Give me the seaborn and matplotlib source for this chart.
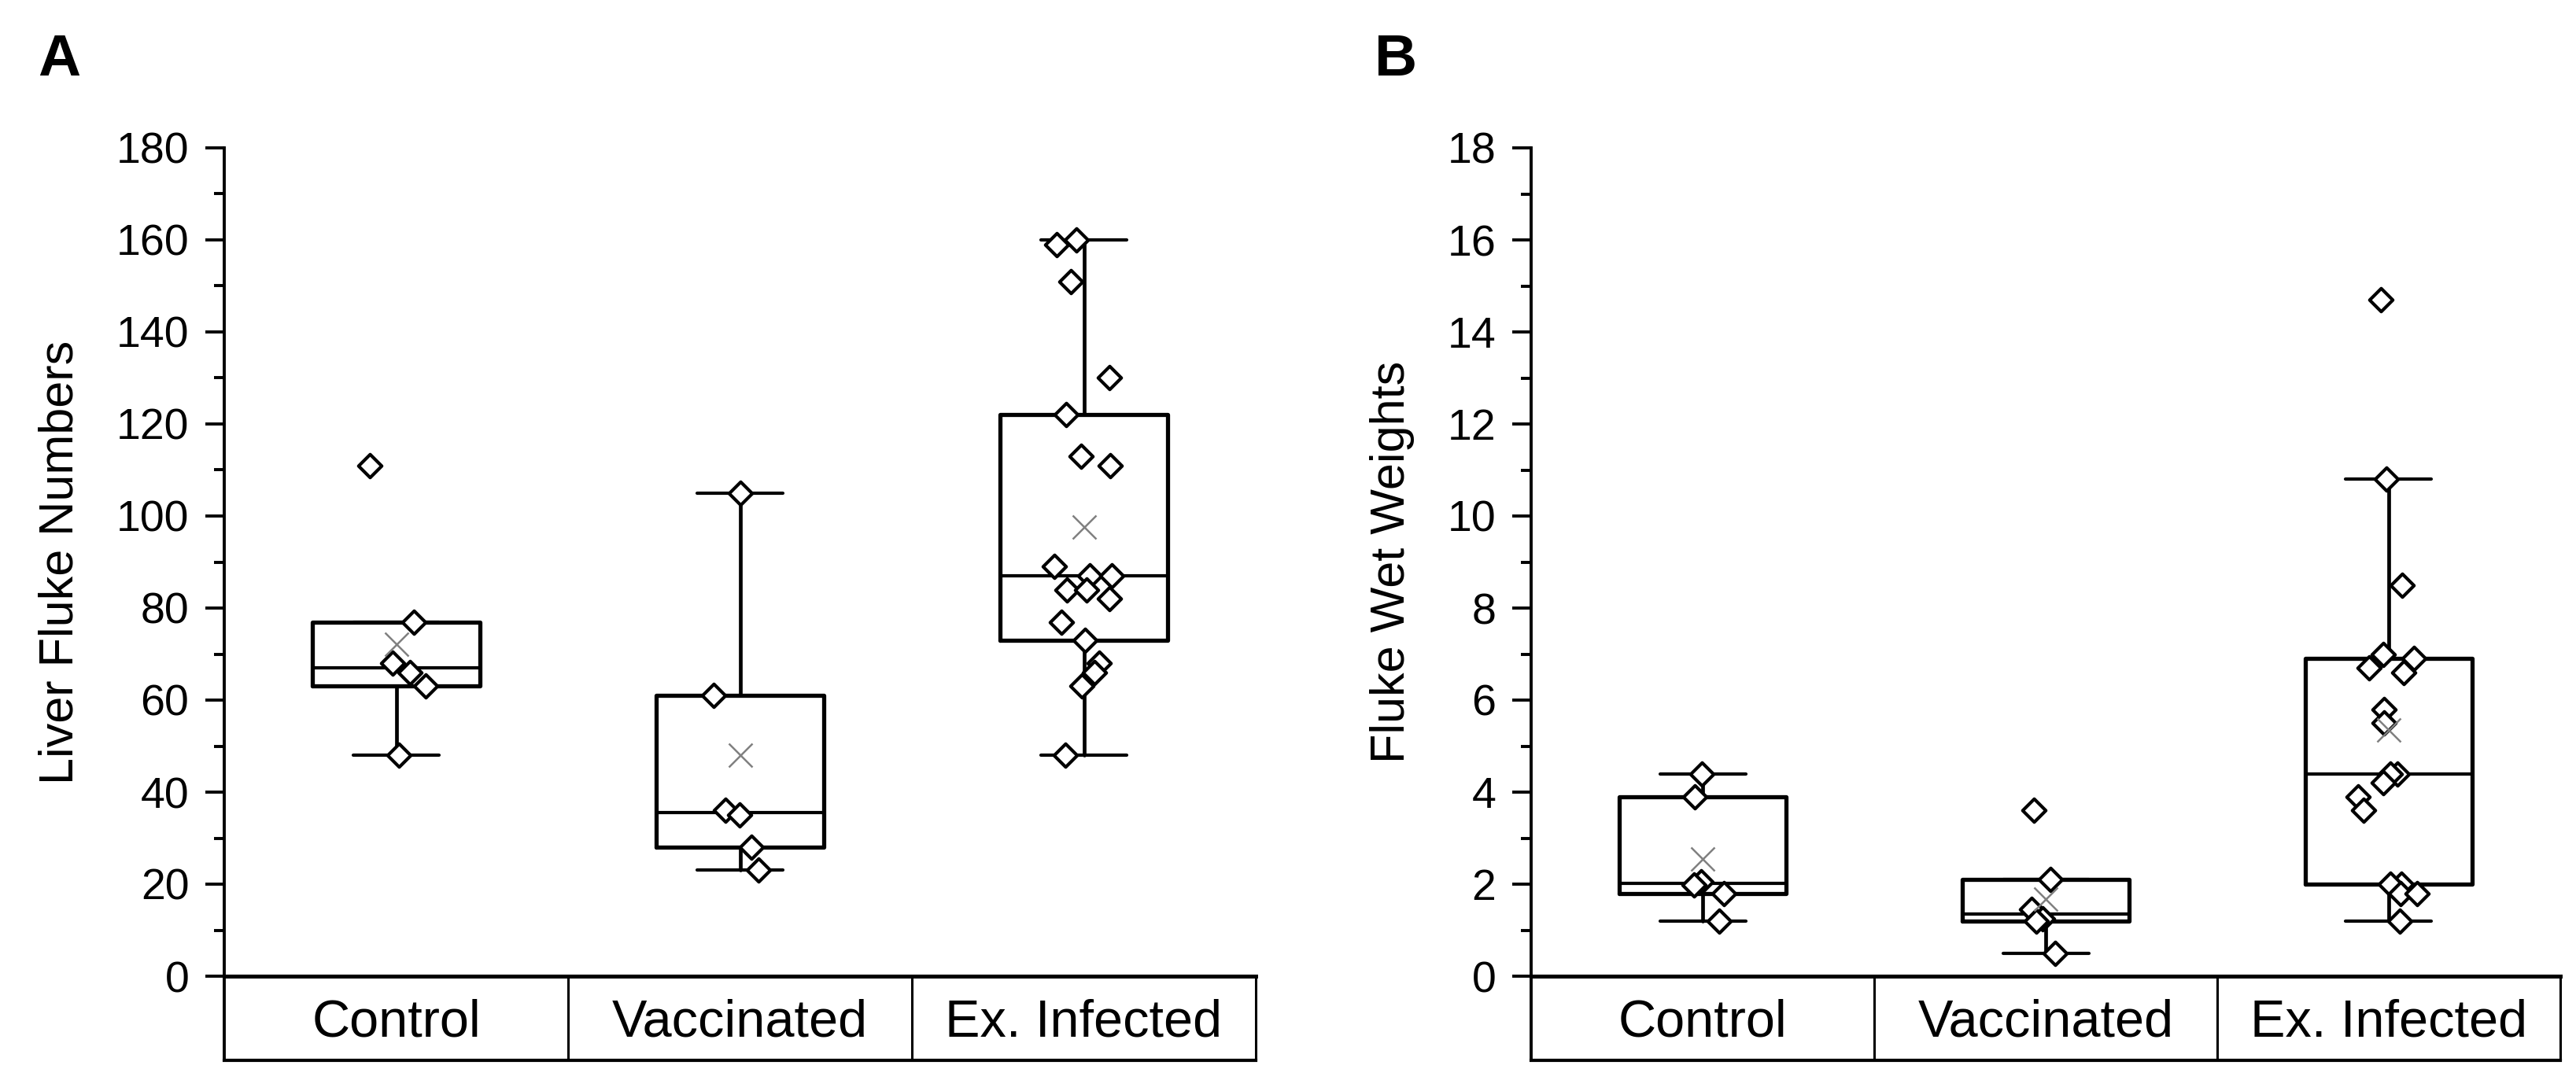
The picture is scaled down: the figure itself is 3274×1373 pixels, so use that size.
import numpy as np
import pandas as pd
import matplotlib
matplotlib.use('Agg')
import matplotlib.pyplot as plt
import matplotlib.transforms as mtransforms
from matplotlib.ticker import MultipleLocator
import seaborn as sns

# groups shown on the category table under each panel
groups = ['Control', 'Vaccinated', 'Ex. Infected']

# Panel A - liver fluke numbers per animal
control_numbers = [111, 77, 68, 66, 63, 48]
vaccinated_numbers = [105, 61, 36, 35, 28, 23]
infected_numbers = [160, 159, 151, 130, 122, 113, 111, 89, 87, 87,
                    84, 84, 82, 77, 73, 68, 66, 63, 48]

# Panel B - fluke wet weights per animal
control_weights = [4.4, 3.9, 2.05, 1.98, 1.8, 1.2]
vaccinated_weights = [3.6, 2.1, 1.45, 1.25, 1.2, 0.5]
infected_weights = [14.7, 10.8, 8.5, 7.0, 6.9, 6.7, 6.6, 5.8, 5.5, 4.4,
                    4.4, 4.2, 3.9, 3.6, 2.0, 2.0, 1.8, 1.8, 1.2]

numbers_ticks = (180, 20, 10)
weights_ticks = (18, 2, 1)


def long_table(series):
    rows = []
    for g, vals in zip(groups, series):
        for v in vals:
            rows.append({'group': g, 'value': v})
    return pd.DataFrame(rows)


def box_stats(values):
    # quartiles as medians of the two halves, median excluded (Excel style)
    v = np.sort(np.asarray(values, dtype=float))
    n = len(v)
    half = n // 2
    q1 = np.median(v[:half])
    q3 = np.median(v[half + n % 2:])
    iqr = q3 - q1
    lo = v[v >= q1 - 1.5 * iqr].min()
    hi = v[v <= q3 + 1.5 * iqr].max()
    return {'med': np.median(v), 'q1': q1, 'q3': q3,
            'whislo': lo, 'whishi': hi, 'fliers': []}


sns.set_theme(style='ticks')
plt.rcParams['font.family'] = ['Liberation Sans', 'DejaVu Sans']
plt.rcParams['axes.linewidth'] = 1.4
plt.rcParams['text.color'] = 'black'
plt.rcParams['axes.labelcolor'] = 'black'
plt.rcParams['axes.edgecolor'] = 'black'
plt.rcParams['xtick.color'] = 'black'
plt.rcParams['ytick.color'] = 'black'

fig = plt.figure(figsize=(16.37, 6.865), dpi=200)
W, H = 3274, 1373
ax_a = fig.add_axes([285 / W, 1 - 1241 / H, 1311 / W, 1053 / H])
ax_b = fig.add_axes([1946 / W, 1 - 1241 / H, 1308 / W, 1053 / H])

np.random.seed(7)

panels = [
    (ax_a, [control_numbers, vaccinated_numbers, infected_numbers],
     'Liver Fluke Numbers', numbers_ticks, 'A', 48),
    (ax_b, [control_weights, vaccinated_weights, infected_weights],
     'Fluke Wet Weights', weights_ticks, 'B', 1747),
]

table_depth = (1348 - 1241) / 1053

for ax, series, ylabel, (ymax, major, minor), letter, letter_x in panels:
    df = long_table(series)

    stats = [box_stats(s) for s in series]
    ax.bxp(stats, positions=[0, 1, 2], widths=0.486, capwidths=0.25,
           showfliers=False, manage_ticks=False, zorder=2,
           boxprops=dict(color='black', linewidth=1.9),
           whiskerprops=dict(color='black', linewidth=1.7),
           capprops=dict(color='black', linewidth=1.5),
           medianprops=dict(color='black', linewidth=1.5))

    sns.stripplot(data=df, x='group', y='value', order=groups, ax=ax,
                  jitter=0.09, marker='D', size=7.5, color='white',
                  edgecolor='black', linewidth=1.5, zorder=3)

    sns.pointplot(data=df, x='group', y='value', order=groups, ax=ax,
                  estimator='mean', errorbar=None, markers='x',
                  linestyles='none', color='#808080', markersize=11,
                  markeredgewidth=0.9, zorder=5)

    ax.set_xlim(-0.5, 2.5)
    ax.set_ylim(0, ymax)
    ax.yaxis.set_major_locator(MultipleLocator(major))
    ax.yaxis.set_minor_locator(MultipleLocator(minor))
    ax.tick_params(axis='y', which='major', length=8.6, width=1.4,
                   labelsize=20, pad=7.5, colors='black', direction='out')
    ax.tick_params(axis='y', which='minor', length=4.7, width=1.4,
                   direction='out', left=True, colors='black')
    ax.tick_params(axis='x', length=0, labelsize=24, pad=27.7,
                   colors='black')
    for t in ax.get_xticklabels():
        t.set_va('baseline')

    ax.set_xlabel('')
    ax.set_ylabel(ylabel, fontsize=22, labelpad=15, color='black')

    sns.despine(ax=ax)
    ax.spines['bottom'].set_linewidth(1.8)
    ax.spines['left'].set_linewidth(1.4)

    # category table under the axis
    trans = mtransforms.blended_transform_factory(ax.transData, ax.transAxes)
    for xb, lw in zip([-0.5, 0.5, 1.5, 2.5], [1.4, 1.1, 1.1, 1.1]):
        ax.plot([xb, xb], [0, -table_depth], color='black', lw=lw,
                transform=trans, clip_on=False, solid_capstyle='butt')
    ax.plot([-0.5, 2.5], [-table_depth, -table_depth], color='black',
            lw=1.5, transform=trans, clip_on=False, solid_capstyle='projecting')

    fig.text(letter_x / W, 1 - 96 / H, letter, fontsize=27, color='black',
             fontweight='bold', ha='left', va='baseline')

fig.savefig('out.png', dpi=200)
